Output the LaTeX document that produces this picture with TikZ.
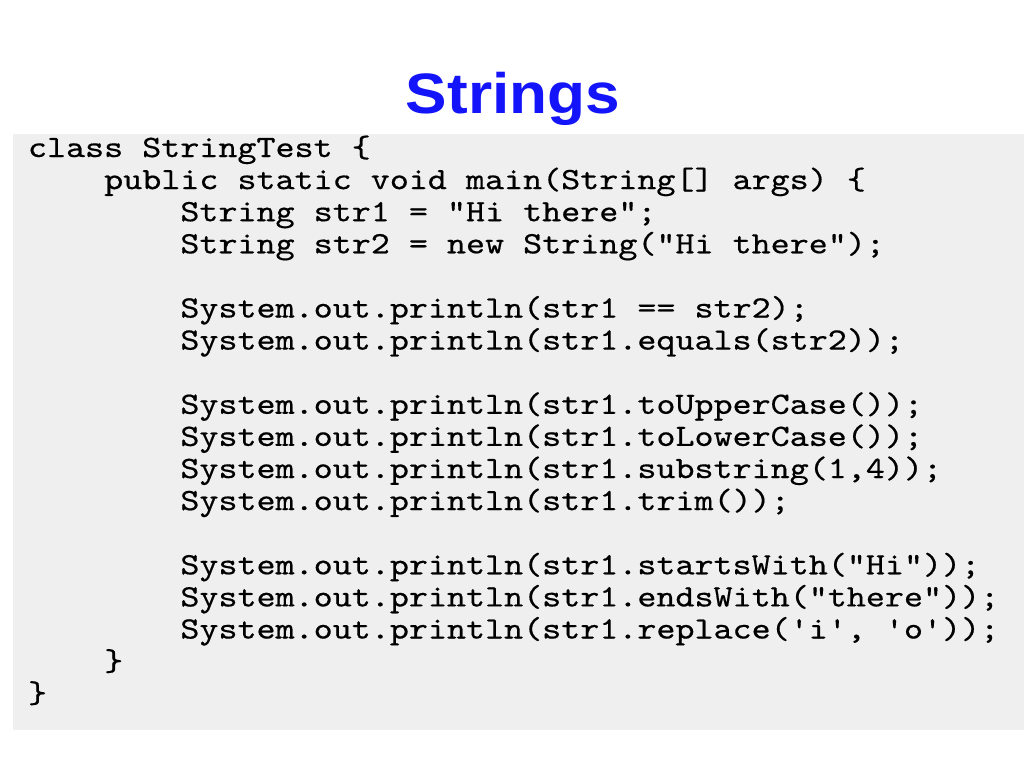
\documentclass[tikz,border=0pt]{standalone}
\usepackage{fontspec}
\setmainfont{Liberation Sans}
\newfontfamily\titlefont{Liberation Sans}[FakeStretch=1.09]
\newfontfamily\codefont{lmmono10-regular.otf}[FakeStretch=1.17,FakeBold=0.5]
\definecolor{boxgray}{RGB}{239,239,239}
\definecolor{titleblue}{RGB}{20,20,250}
\begin{document}
\begin{tikzpicture}[x=1pt,y=-1pt,
  codeline/.style={anchor=base west,inner sep=0pt,outer sep=0pt,font=\codefont\fontsize{31}{32}\selectfont},
  titlestyle/.style={anchor=base,inner sep=0pt,text=titleblue,font=\titlefont\bfseries\fontsize{57}{60}\selectfont}]
\useasboundingbox (0,0) rectangle (1024,768);
\fill[white] (0,0) rectangle (1024,768);
\fill[boxgray] (13,134) rectangle (1024,730);
\node[titlestyle] (title) at (513,113) {Strings};
\def\cw{19.05}
\def\lh{32.1}
\node[codeline] (l1) at (28,157) {class StringTest \{};
\node[codeline] (l2) at (28+4*\cw,157+1*\lh) {public static void main(String[] args) \{};
\node[codeline] (l3) at (28+8*\cw,157+2*\lh) {String str1 = "Hi there";};
\node[codeline] (l4) at (28+8*\cw,157+3*\lh) {String str2 = new String("Hi there");};
\node[codeline] (l6) at (28+8*\cw,157+5*\lh) {System.out.println(str1 == str2);};
\node[codeline] (l7) at (28+8*\cw,157+6*\lh) {System.out.println(str1.equals(str2));};
\node[codeline] (l9) at (28+8*\cw,157+8*\lh) {System.out.println(str1.toUpperCase());};
\node[codeline] (l10) at (28+8*\cw,157+9*\lh) {System.out.println(str1.toLowerCase());};
\node[codeline] (l11) at (28+8*\cw,157+10*\lh) {System.out.println(str1.substring(1,4));};
\node[codeline] (l12) at (28+8*\cw,157+11*\lh) {System.out.println(str1.trim());};
\node[codeline] (l14) at (28+8*\cw,157+13*\lh) {System.out.println(str1.startsWith("Hi"));};
\node[codeline] (l15) at (28+8*\cw,157+14*\lh) {System.out.println(str1.endsWith("there"));};
\node[codeline] (l16) at (28+8*\cw,157+15*\lh) {System.out.println(str1.replace(\char39 i\char39, \char39 o\char39));};
\node[codeline] (l17) at (28+4*\cw,157+16*\lh) {\}};
\node[codeline] (l18) at (28,157+17*\lh) {\}};
\end{tikzpicture}
\end{document}
